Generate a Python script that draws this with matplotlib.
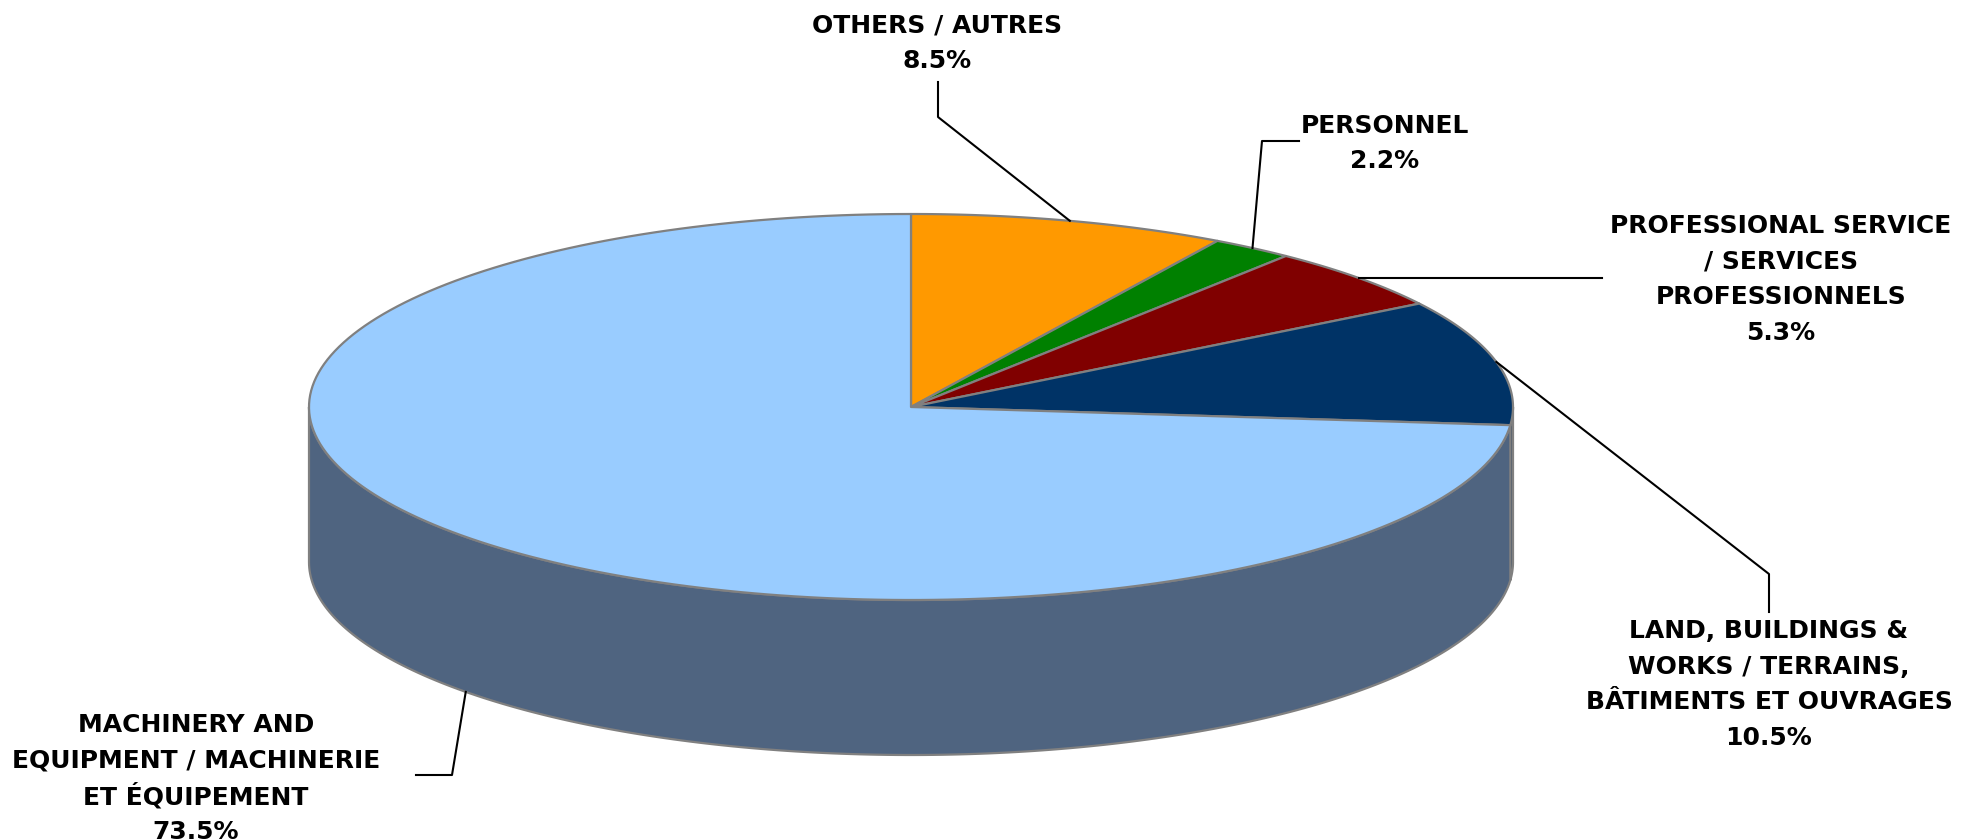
import numpy as np
import matplotlib.pyplot as plt
from matplotlib.patches import Polygon

plt.rcParams["font.family"] = ["DejaVu Sans"]

# data
labels = [
    ["OTHERS / AUTRES"],
    ["PERSONNEL"],
    ["PROFESSIONAL SERVICE", "/ SERVICES", "PROFESSIONNELS"],
    ["LAND, BUILDINGS &", "WORKS / TERRAINS,", "BÂTIMENTS ET OUVRAGES"],
    ["MACHINERY AND", "EQUIPMENT / MACHINERIE", "ET ÉQUIPEMENT"],
]
values = [8.5, 2.2, 5.3, 10.5, 73.5]
top_colors = ["#FF9900", "#008000", "#800000", "#003366", "#99CCFF"]
side_colors = ["#B36B00", "#005A00", "#5A0000", "#00234A", "#4F6480"]

# label block centres (pixels)
label_pos = [(937, 41), (1385, 141), (1781, 277), (1769, 682), (196, 776)]

W, H = 1978, 840
cx, cy = 911, 407
rx, ry = 602, 193
depth = 155
line_gap = 35.5

fig = plt.figure(figsize=(W / 100, H / 100), dpi=100)
ax = fig.add_axes([0, 0, 1, 1])
ax.set_xlim(0, W)
ax.set_ylim(H, 0)
ax.axis("off")


def ellipse_pts(t0, t1, dy=0, n=200):
    t = np.radians(np.linspace(t0, t1, n))
    return np.column_stack([cx + rx * np.cos(t), cy - ry * np.sin(t) + dy])


fracs = np.array(values) / sum(values)
starts = 90 - 360 * np.concatenate([[0], np.cumsum(fracs)[:-1]])
ends = starts - 360 * fracs

edge = "#808080"

# side walls (front half: angles between -180 and 0)
for s, e, c in zip(starts, ends, side_colors):
    a = min(s, 0)
    b = max(e, -180)
    if a <= b:
        continue
    top = ellipse_pts(a, b)
    bot = ellipse_pts(b, a, dy=depth)
    ax.add_patch(Polygon(np.vstack([top, bot]), closed=True, facecolor=c,
                         edgecolor=edge, lw=1.6, joinstyle="round"))

# top faces
for s, e, c in zip(starts, ends, top_colors):
    pts = np.vstack([[cx, cy], ellipse_pts(s, e)])
    ax.add_patch(Polygon(pts, closed=True, facecolor=c, edgecolor=edge,
                         lw=1.6, joinstyle="round"))

# labels, one text per line so spacing stays even
for lab, v, (lx, ly) in zip(labels, values, label_pos):
    lines = lab + [f"{v:.1f}%"]
    n = len(lines)
    for i, s in enumerate(lines):
        y = ly + (i - (n - 1) / 2) * line_gap
        ax.text(lx, y, s, ha="center", va="center_baseline",
                fontsize=18, fontweight="bold", color="black")

# leader lines
mids = (starts + ends) / 2


def anchor(i, dy=0):
    t = np.radians(mids[i])
    return cx + rx * np.cos(t), cy - ry * np.sin(t) + dy


a2 = anchor(2)
leaders = [
    [(938, 82), (938, 117), anchor(0)],
    [(1299, 141), (1262, 141), anchor(1)],
    [(1602, a2[1]), a2],
    [(1769, 612), (1769, 574), anchor(3)],
    [(416, 775), (452, 775), anchor(4, depth)],
]
for path in leaders:
    xs, ys = zip(*path)
    ax.plot(xs, ys, color="black", lw=1.5)

fig.savefig("out.png", dpi=100, facecolor="white")
